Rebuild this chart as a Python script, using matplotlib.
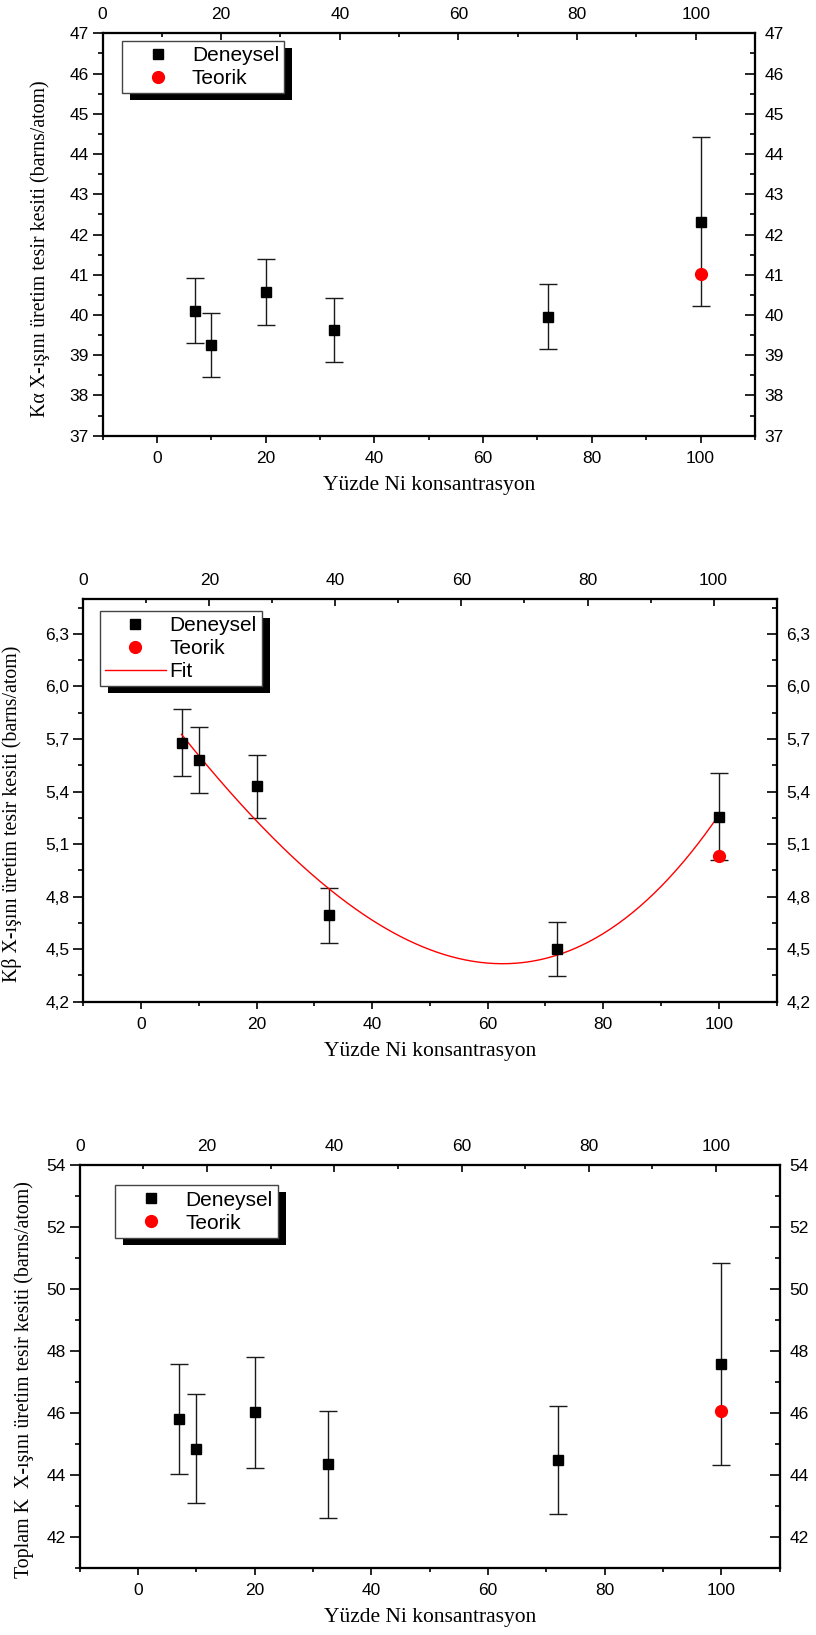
import numpy as np
import matplotlib
matplotlib.use('Agg')
import matplotlib.pyplot as plt
from matplotlib.ticker import MultipleLocator, FuncFormatter
from matplotlib.patches import Rectangle
from matplotlib.transforms import IdentityTransform

# data
ni = [7, 10, 20, 32.5, 72, 100]
teo_x = [100]

ka = [40.11, 39.25, 40.58, 39.63, 39.96, 42.32]
ka_err = [0.81, 0.79, 0.82, 0.80, 0.81, 2.10]
ka_teo = [41.02]

kb = [5.68, 5.58, 5.43, 4.694, 4.50, 5.257]
kb_err = [0.19, 0.19, 0.18, 0.156, 0.153, 0.25]
kb_teo = [5.03]

kt = [45.79, 44.83, 46.01, 44.33, 44.47, 47.58]
kt_err = [1.78, 1.76, 1.80, 1.73, 1.75, 3.26]
kt_teo = [46.04]

SANS = 'Liberation Sans'
SERIF = 'Liberation Serif'
plt.rcParams['font.family'] = SANS

TICK_FS = 12.5
XLAB_FS = 15.5
YLAB_FS = 14.3
LEG_FS = 15

fig = plt.figure(figsize=(8.16, 16.35), dpi=100)

def comma(v, pos):
    return ('%.1f' % v).replace('.', ',')

def panel(rect, y, yerr, teo, ylim, ymaj, ymin, fmt, ylabel, ylab_x, leg_at, fit=False):
    ax = fig.add_axes(rect)
    ax.errorbar(ni, y, yerr=yerr, fmt='none', ecolor='#1a1a1a', elinewidth=1.0,
                capsize=6.5, capthick=1.0, zorder=2)
    h1, = ax.plot(ni, y, 's', color='black', ms=7.5, zorder=3, label='Deneysel')
    h2, = ax.plot(teo_x, teo, 'o', color='red', ms=8.5, mec='red', zorder=4, label='Teorik')
    handles = [h1, h2]
    if fit:
        # polynomial fit of the measured points
        c = np.polyfit(ni, y, 3)
        xf = np.linspace(min(ni), max(ni), 300)
        h3, = ax.plot(xf, np.polyval(c, xf), '-', color='red', lw=1.0, zorder=2.5, label='Fit')
        handles.append(h3)

    ax.set_xlim(-10, 110)
    ax.set_ylim(*ylim)
    ax.xaxis.set_major_locator(MultipleLocator(20))
    ax.xaxis.set_minor_locator(MultipleLocator(10))
    ax.yaxis.set_major_locator(MultipleLocator(ymaj))
    ax.yaxis.set_minor_locator(MultipleLocator(ymin))
    if fmt is not None:
        ax.yaxis.set_major_formatter(FuncFormatter(fmt))
    ax.tick_params(axis='y', which='major', direction='out', length=7, width=1.2, pad=3, labelsize=TICK_FS)
    ax.tick_params(axis='y', which='minor', direction='out', length=3.5, width=1.2)
    ax.tick_params(axis='x', which='major', direction='out', length=5, width=1.2, pad=6, labelsize=TICK_FS)
    ax.tick_params(axis='x', which='minor', direction='out', length=3, width=1.2)
    ax.set_xlabel('Yüzde Ni konsantrasyon', family=SERIF, fontsize=XLAB_FS, va='top')
    ax.xaxis.set_label_coords(0.5, -0.100)
    ax.set_ylabel(ylabel, family=SERIF, fontsize=YLAB_FS)
    ax.yaxis.set_label_coords(ylab_x, 0.466)

    # right axis, same scale
    axr = ax.twinx()
    axr.set_ylim(*ylim)
    axr.yaxis.set_major_locator(MultipleLocator(ymaj))
    axr.yaxis.set_minor_locator(MultipleLocator(ymin))
    if fmt is not None:
        axr.yaxis.set_major_formatter(FuncFormatter(fmt))
    axr.tick_params(axis='y', which='major', direction='in', length=7, width=1.2, pad=7, labelsize=TICK_FS)
    axr.tick_params(axis='y', which='minor', direction='in', length=3.5, width=1.2)

    # top axis, 0..110
    axt = ax.twiny()
    axt.set_xlim(0, 110)
    axt.xaxis.set_major_locator(MultipleLocator(20))
    axt.xaxis.set_minor_locator(MultipleLocator(10))
    axt.tick_params(axis='x', which='major', direction='in', length=5, width=1.2, pad=8, labelsize=TICK_FS)
    axt.tick_params(axis='x', which='minor', direction='in', length=3, width=1.2)

    for a in (ax, axr, axt):
        for s in a.spines.values():
            s.set_linewidth(1.5)

    leg = axt.legend(handles, [h.get_label() for h in handles], loc='upper left',
                     bbox_to_anchor=leg_at, borderaxespad=0, fontsize=LEG_FS,
                     handlelength=2.9, handletextpad=0.2, borderpad=0.25,
                     labelspacing=0.2, fancybox=False, framealpha=1,
                     edgecolor='#444444')
    leg.get_frame().set_linewidth(1.0)
    return axt, leg

legs = []
legs.append(panel([0.1257, 0.7335, 0.7995, 0.2461], ka, ka_err, ka_teo, (37, 47), 1, 0.5, None,
                  'Kα X-ışını üretim tesir kesiti (barns/atom)', -0.081, (0.030, 0.982)))
legs.append(panel([0.1021, 0.3873, 0.8496, 0.2464], kb, kb_err, kb_teo, (4.2, 6.5), 0.3, 0.15, comma,
                  'Kβ X-ışını üretim tesir kesiti (barns/atom)', -0.088, (0.024, 0.971), fit=True))
legs.append(panel([0.0977, 0.0412, 0.8578, 0.2464], kt, kt_err, kt_teo, (41, 54), 2, 1, None,
                  'Toplam K  X-ışını üretim tesir kesiti (barns/atom)', -0.066, (0.051, 0.949)))

# black drop shadow behind each legend box
fig.canvas.draw()
r = fig.canvas.get_renderer()
for axt, leg in legs:
    bb = leg.get_frame().get_window_extent(r)
    sh = Rectangle((bb.x0 + 8, bb.y0 - 7), bb.width, bb.height, transform=IdentityTransform(),
                   facecolor='black', edgecolor='none', zorder=4.9, clip_on=False)
    axt.add_artist(sh)

fig.savefig('out.png', dpi=100)
